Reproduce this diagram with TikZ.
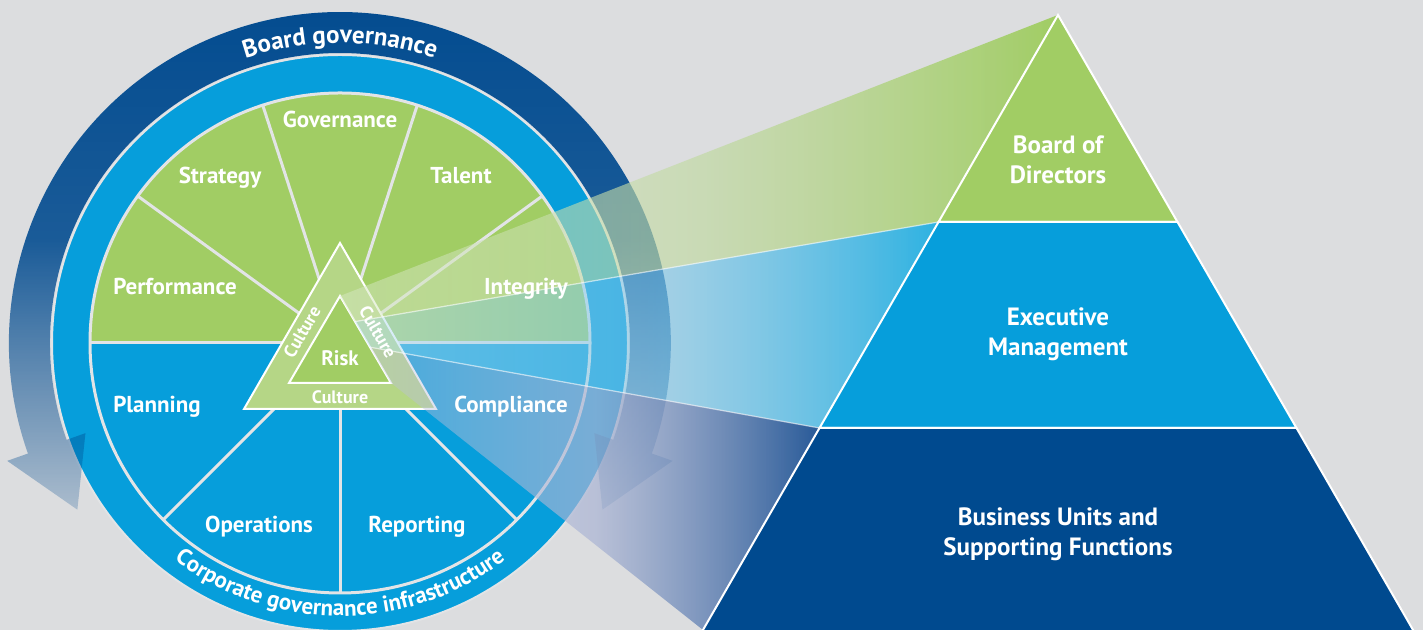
\documentclass[tikz,border=0pt]{standalone}
\usepackage{fontspec}
\setmainfont{PT Sans}
\usepackage{tikz}
\usetikzlibrary{fadings,decorations.text}

\definecolor{bggrey}{HTML}{DCDDDF}
\definecolor{wheelgreen}{HTML}{A1CD64}
\definecolor{wheelblue}{HTML}{069EDB}
\definecolor{boardblue}{HTML}{004A8F}
\definecolor{bandgreen}{HTML}{B5D686}
\definecolor{spokegrey}{HTML}{E2E4E6}
\definecolor{greenbeamL}{RGB}{215,232,195}
\definecolor{greenbeamM}{RGB}{192,217,160}
\definecolor{bluebeamL}{RGB}{185,222,242}
\definecolor{bluebeamM}{RGB}{125,200,235}
\definecolor{bluebeamR}{RGB}{45,178,226}
\definecolor{darkbeamL}{RGB}{190,195,222}
\definecolor{darkbeamM}{RGB}{170,180,212}
\definecolor{darkbeamR}{RGB}{40,90,152}

\tikzfading[name=ringfade, top color=transparent!0, bottom color=transparent!78, middle color=transparent!12]
\tikzfading[name=greenfade, left color=transparent!50, right color=transparent!0, middle color=transparent!35]
\tikzfading[name=bluefade, left color=transparent!50, right color=transparent!0, middle color=transparent!45]
\tikzfading[name=darkfade, left color=transparent!65, right color=transparent!0, middle color=transparent!30]

\begin{document}
\begin{tikzpicture}[%
x=0.5pt, y=0.5pt,
spoke/.style={draw=spokegrey, line width=1.5pt},
seg/.style={text=white, font=\fontsize{11.5}{13}\selectfont\bfseries, anchor=base},
culture/.style={text=white, font=\fontsize{9}{10}\selectfont\bfseries, inner sep=0pt},
layer/.style={draw=white, line width=1pt},
layertext/.style={text=white, font=\fontsize{12.5}{15}\selectfont\bfseries, align=center}
]
\path[use as bounding box, fill=bggrey] (0,0) rectangle (1423,630);
\clip (0,0) rectangle (1423,630);

% wheel
\begin{scope}[shift={(340,287)}]
\fill[wheelblue] (0,0) circle[radius=288];
\fill[wheelgreen] (0:250) arc[start angle=0, end angle=180, radius=250] -- cycle;
\foreach \a in {36,72,108,144,180,225,270,315,360}
  \draw[spoke] (0,0) -- (\a:250);
\draw[spoke] (0,0) circle[radius=250];
\draw[spokegrey, line width=1pt] (0,0) circle[radius=288];

% board governance arrow
\fill[boardblue, path fading=ringfade]
  (199.5:331) arc[start angle=199.5, end angle=-19.5, radius=331]
  -- (-19.5:353) -- (-32.4:311) -- (-19.5:270) -- (-19.5:290)
  arc[start angle=-19.5, end angle=199.5, radius=290]
  -- (199.5:270) -- (212.4:311) -- (199.5:353) -- cycle;

% culture and risk
\filldraw[fill=bandgreen, draw=white, line width=1pt] (0,100) -- (-96,-66) -- (96,-66) -- cycle;
\filldraw[fill=wheelgreen, draw=white, line width=1pt] (0,47) -- (-51,-40) -- (51,-40) -- cycle;
\coordinate (innerTop) at (0,47);
\coordinate (splitA) at (15,21.4);
\coordinate (splitB) at (30,-4.2);
\coordinate (innerRight) at (51,-40);
\end{scope}

% pyramid corners
\coordinate (apex) at (1058,615);
\coordinate (boardL) at (938.5,408);
\coordinate (boardR) at (1177.5,408);
\coordinate (execL) at (819.5,202);
\coordinate (execR) at (1296.5,202);
\coordinate (pyrLow) at (703,0);
\coordinate (baseL) at (691.4,-20);
\coordinate (baseR) at (1424.6,-20);

% beams
\path[left color=greenbeamL, right color=wheelgreen, middle color=greenbeamM, path fading=greenfade]
  (innerTop) -- (apex) -- (boardL) -- (splitA) -- cycle;
\path[left color=bluebeamL, right color=bluebeamR, middle color=bluebeamM, path fading=bluefade]
  (splitA) -- (boardL) -- (execL) -- (splitB) -- cycle;
\path[left color=darkbeamL, right color=darkbeamR, middle color=darkbeamM, path fading=darkfade]
  (splitB) -- (execL) -- (pyrLow) -- (innerRight) -- cycle;
\draw[white, opacity=0.6, line width=0.6pt] (splitA) -- (boardL);
\draw[white, opacity=0.6, line width=0.6pt] (splitB) -- (execL);

% pyramid
\filldraw[fill=wheelgreen, layer] (apex) -- (boardL) -- (boardR) -- cycle;
\filldraw[fill=wheelblue, layer] (boardL) -- (execL) -- (execR) -- (boardR) -- cycle;
\filldraw[fill=boardblue, layer] (execL) -- (baseL) -- (baseR) -- (execR) -- cycle;

\node[layertext] (board) at (1058,470) {Board of\\Directors};
\node[layertext] (exec) at (1058,296) {Executive\\Management};
\node[layertext] (units) at (1058,96) {Business Units and\\Supporting Functions};

% segment labels
\node[seg] (perf) at (175,335) {Performance};
\node[seg] (strat) at (220,446) {Strategy};
\node[seg] (gov) at (340,502) {Governance};
\node[seg] (talent) at (461,446) {Talent};
\node[seg] (integ) at (526,335) {Integrity};
\node[seg] (plan) at (157,217) {Planning};
\node[seg] (comply) at (511,217) {Compliance};
\node[seg] (ops) at (259,97) {Operations};
\node[seg] (report) at (417,97) {Reporting};

\node[culture, rotate=60] (cultL) at (302,298) {Culture};
\node[culture, rotate=-60] (cultR) at (378,298) {Culture};
\node[culture] (cultB) at (340,233) {Culture};
\node[text=white, font=\fontsize{10.5}{12}\selectfont\bfseries] (risk) at (340,272) {Risk};

% ring texts
\begin{scope}[shift={(340,287)}]
\path[decorate, decoration={text along path, text align=center,
  text={|\fontsize{12.5}{14}\selectfont\bfseries\color{white}|Board governance}}]
  (150:300) arc[start angle=150, end angle=30, radius=300];
\path[decorate, decoration={text along path, text align=center,
  text={|\fontsize{11.5}{13}\selectfont\bfseries\color{white}|Corporate governance infrastructure}}]
  (220:273) arc[start angle=220, end angle=320, radius=273];
\end{scope}
\end{tikzpicture}
\end{document}
